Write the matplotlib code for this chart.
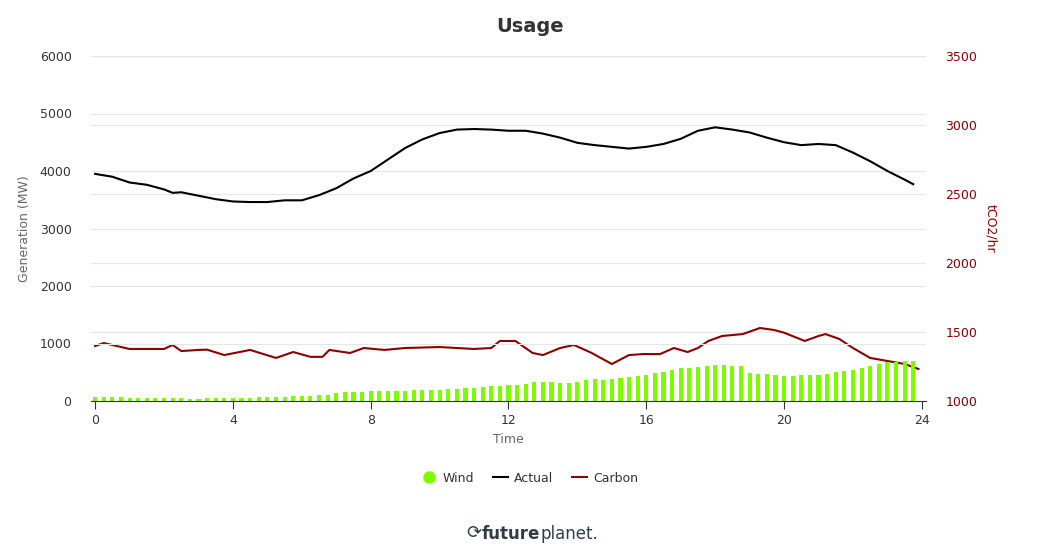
import matplotlib
matplotlib.use("Agg")
import matplotlib.pyplot as plt
import numpy as np

wind = [70,70,70,70,52,52,52,52,52,52,52,35,35,52,52,52,
        52,52,52,70,70,70,70,87,87,87,105,105,133,157,157,157,
        174,174,174,174,174,191,191,191,191,209,209,226,226,244,261,261,
        278,278,296,330,330,330,313,313,330,365,383,365,383,400,418,435,
        447,487,505,539,574,574,586,609,620,620,603,603,487,470,470,447,
        429,429,447,447,447,470,505,522,539,574,603,644,679,679,696,696]
wind_t = [i*0.25 for i in range(len(wind))]

act_t = [0,0.5,1,1.5,2,2.25,2.5,3,3.5,4,4.5,5,5.5,6,6.5,7,7.5,8,8.5,9,9.5,10,10.5,11,11.5,12,12.5,13,13.5,14,14.5,15,15.5,16,16.5,17,17.5,18,18.5,19,19.5,20,20.5,21,21.5,22,22.5,23,23.5,23.75]
actual = [3950,3900,3800,3760,3680,3620,3630,3570,3510,3470,3460,3460,3490,3490,3580,3700,3870,4000,4200,4400,4550,4660,4720,4730,4720,4700,4700,4650,4580,4490,4450,4420,4390,4420,4470,4560,4700,4760,4720,4670,4580,4500,4450,4470,4450,4320,4170,4000,3850,3770]

carb_t = [0,0.25,1,2,2.25,2.5,3,3.25,3.75,4.5,5.25,5.75,6.25,6.6,6.8,7.4,7.8,8.4,9,10,11,11.5,11.75,12.2,12.7,13,13.5,13.9,14.4,15,15.5,15.9,16.4,16.8,17.2,17.5,17.8,18.2,18.8,19.3,19.7,20,20.6,21,21.2,21.6,22,22.5,23,23.5,23.9]
carbon = [1398,1420,1377,1377,1406,1362,1370,1372,1333,1370,1312,1355,1320,1320,1370,1348,1384,1370,1384,1391,1377,1384,1435,1435,1348,1333,1384,1406,1350,1268,1333,1340,1340,1384,1355,1384,1435,1471,1485,1529,1515,1495,1435,1471,1485,1450,1384,1312,1290,1268,1232]

fig = plt.figure(figsize=(10.6,5.6), dpi=100)
ax = fig.add_axes([91/1060, 1-401/560, 835/1060, 345/560])
ax2 = ax.twinx()
ax.set_zorder(ax2.get_zorder()+1); ax.patch.set_visible(False)

ax.bar(wind_t, wind, width=0.12, color='#7cfc00', zorder=2)
ax.plot(act_t, actual, color='black', lw=1.5, zorder=3)
ax2.plot(carb_t, carbon, color='#8b0000', lw=1.5)

ax.set_xlim(-0.12, 24.12)
ax.set_ylim(0, 6000)
ax2.set_ylim(1000, 3500)
ax.set_xticks([0,4,8,12,16,20,24])
ax.set_yticks(range(0,6001,1000))
ax2.set_yticks(range(1000,3501,500))
ax.grid(axis='y', color='#e6e6e6', lw=0.8, zorder=0)
ax2.grid(axis='y', color='#e6e6e6', lw=0.8)
for a in (ax, ax2):
    for s in a.spines.values(): s.set_visible(False)
ax.spines['bottom'].set_visible(True); ax.spines['bottom'].set_color('#333333')
ax.tick_params(axis='y', length=0, labelcolor='#333333', labelsize=9, pad=14)
ax.tick_params(axis='x', color='#333333', labelcolor='#333333', labelsize=9, length=6)
ax2.tick_params(axis='y', length=0, labelcolor='#8b0000', labelsize=9, pad=14)
ax.set_xlabel('Time', color='#666666', fontsize=9)
ax.set_ylabel('Generation (MW)', color='#666666', fontsize=9, labelpad=6)
ax2.set_ylabel('tCO2/hr', color='#8b0000', fontsize=9, rotation=270, labelpad=14)
fig.text(0.5, 1-26/560, 'Usage', ha='center', va='center', fontsize=14, fontweight='bold', color='#333333')

from matplotlib.lines import Line2D
h = [Line2D([],[],marker='o',ls='',color='#7cfc00',markersize=8),
     Line2D([],[],color='black',lw=1.5),
     Line2D([],[],color='#8b0000',lw=1.5)]
fig.legend(h, ['Wind','Actual','Carbon'], loc='center', bbox_to_anchor=(0.5, 1-478/560),
           ncol=3, frameon=False, fontsize=9, handlelength=1.2, columnspacing=1.5, handletextpad=0.5,
           labelcolor='#333333')
fig.text(540/1060, 1-534/560, 'future', ha='right', va='center', fontsize=12, fontweight='bold', color='#2f3e46')
fig.text(540/1060, 1-534/560, 'planet.', ha='left', va='center', fontsize=12, color='#2f3e46')
fig.text(474/1060, 1-533/560, '⟳', ha='center', va='center', fontsize=13, color='#2f3e46')
fig.savefig('out.png', dpi=100)
